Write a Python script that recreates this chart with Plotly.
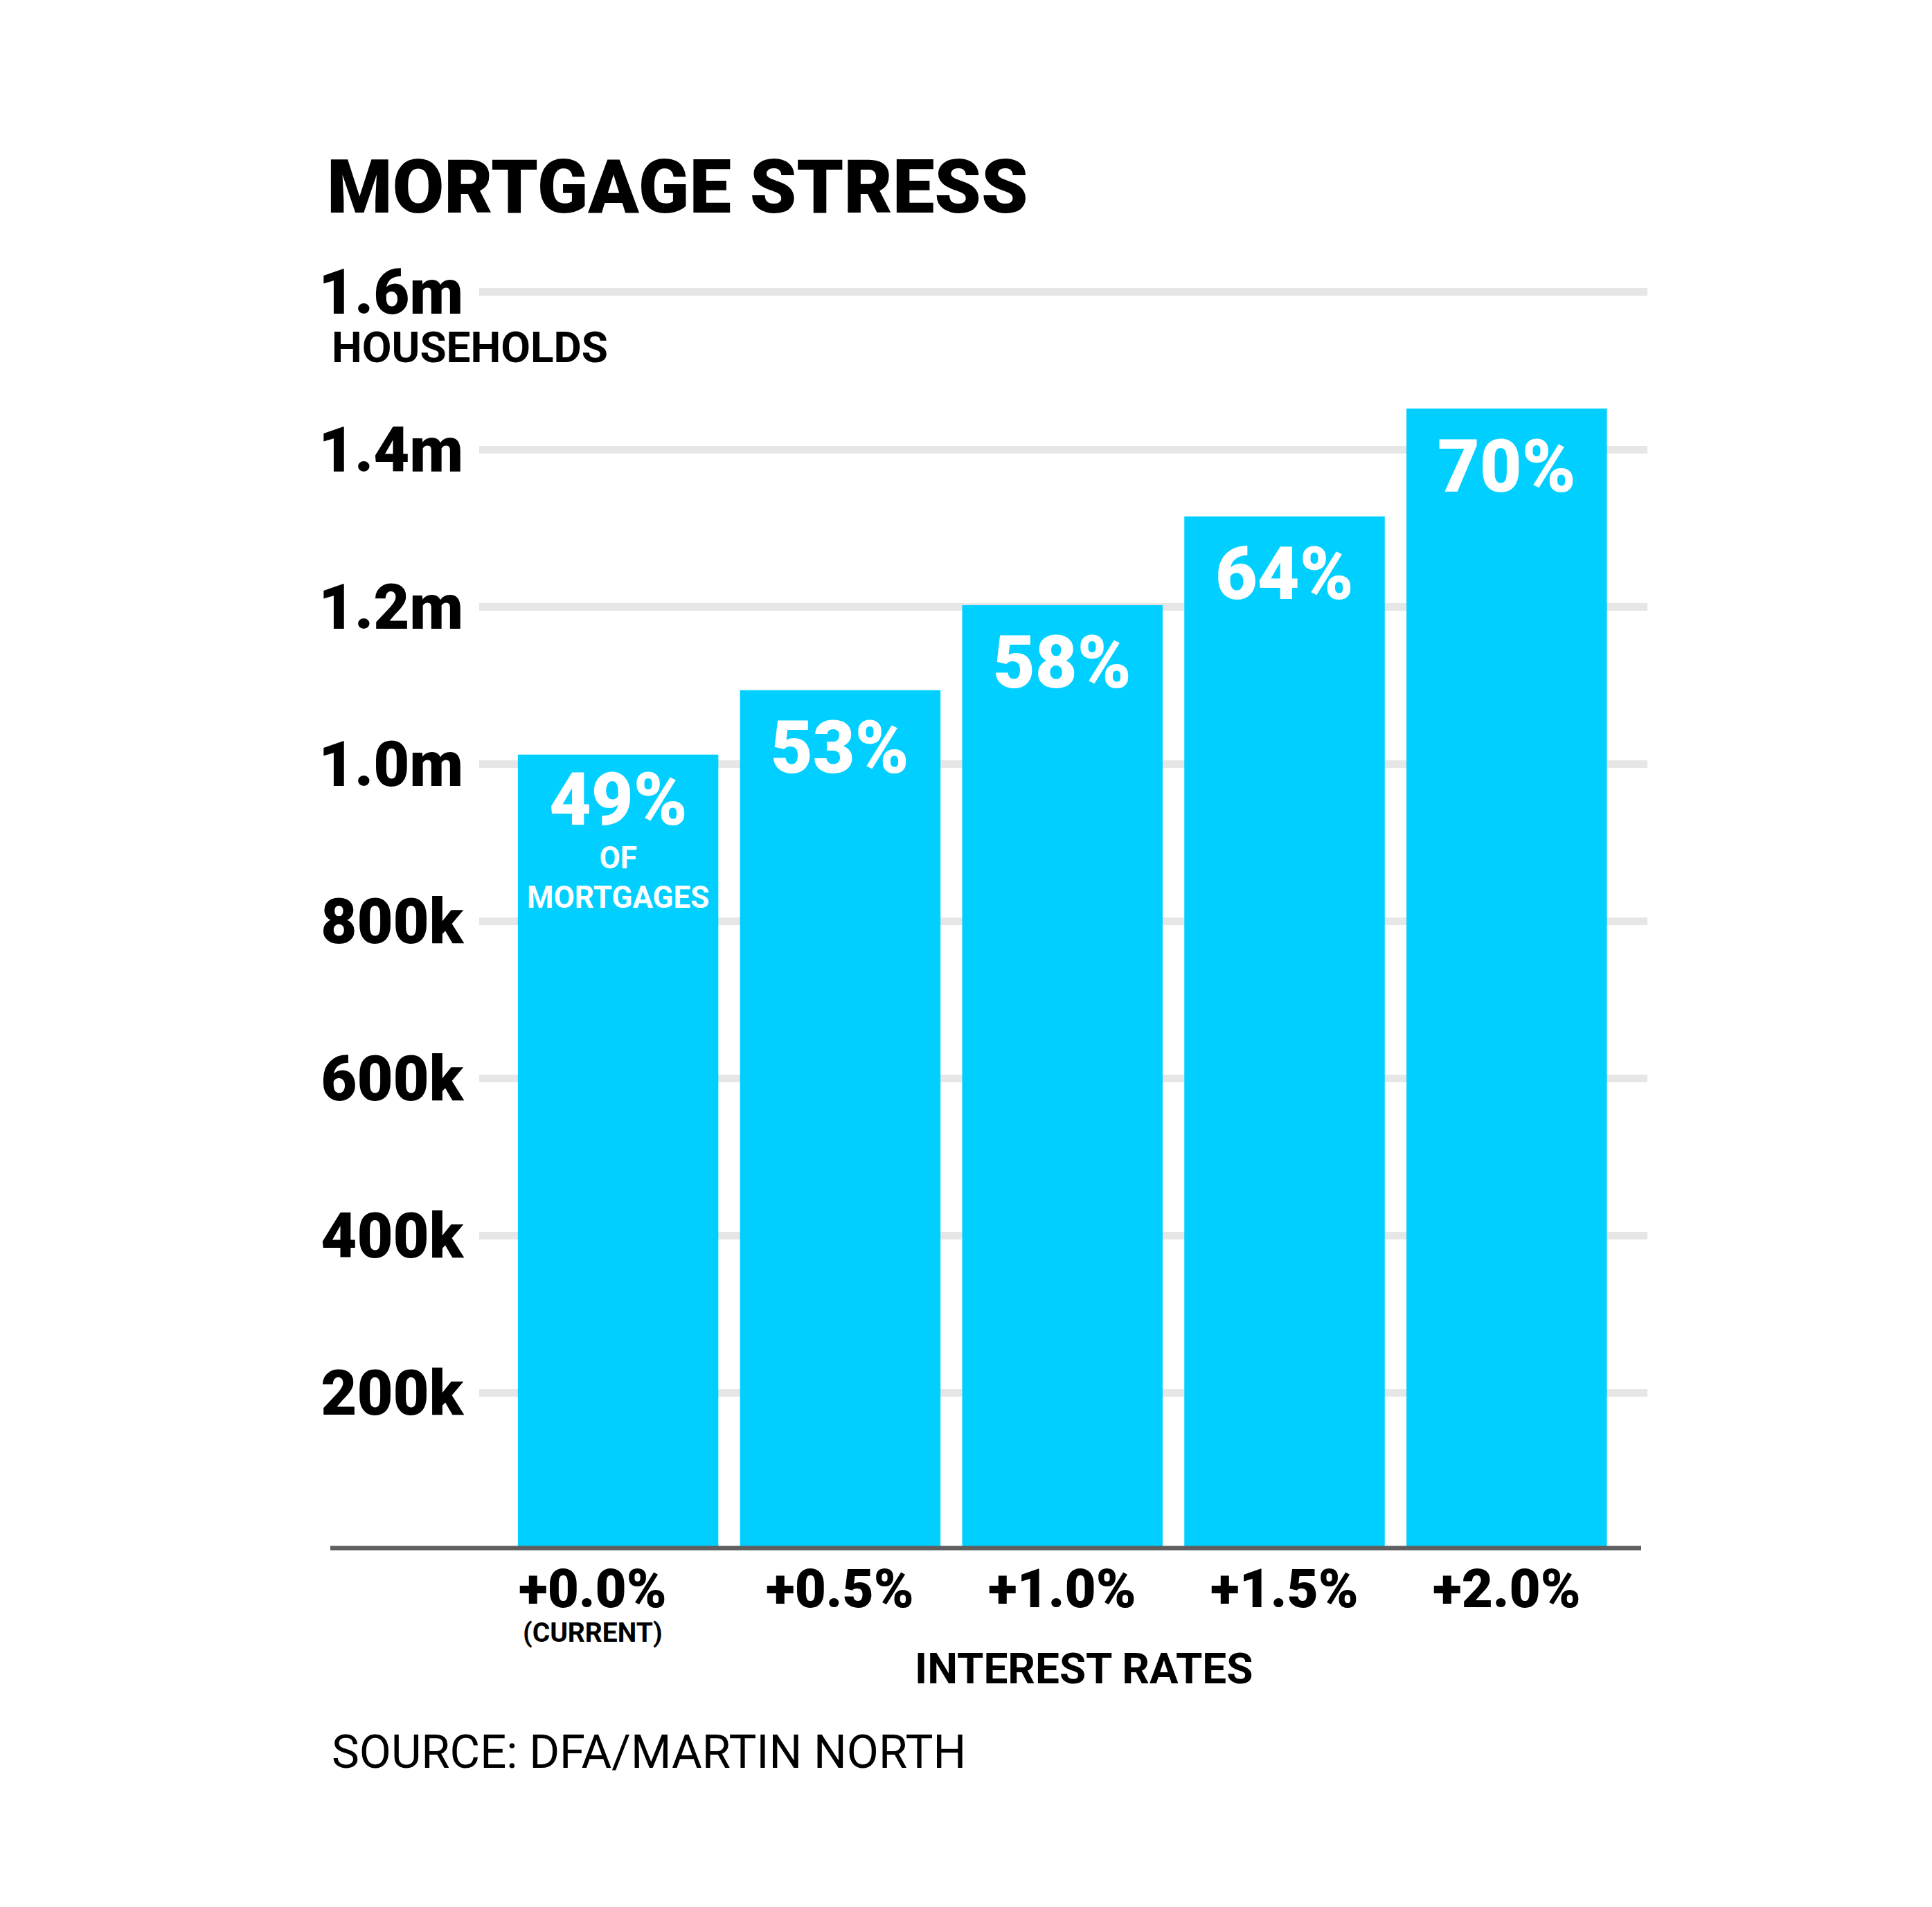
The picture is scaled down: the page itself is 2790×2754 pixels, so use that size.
import plotly.graph_objects as go

# ---------------- data ----------------
CATEGORIES = ["+0.0%", "+0.5%", "+1.0%", "+1.5%", "+2.0%"]
CATEGORY_NOTES = ["(CURRENT)", "", "", "", ""]
HOUSEHOLDS = [1012000, 1094000, 1202000, 1315000, 1452000]
SHARE_LABELS = ["49%", "53%", "58%", "64%", "70%"]
SHARE_NOTE = "OF<br>MORTGAGES"
Y_TICK_VALS = [200000, 400000, 600000, 800000, 1000000, 1200000, 1400000, 1600000]
Y_TICK_TEXT = ["200k", "400k", "600k", "800k", "1.0m", "1.2m", "1.4m", "1.6m"]
TITLE = "MORTGAGE STRESS"
Y_UNIT = "HOUSEHOLDS"
X_TITLE = "INTEREST RATES"
SOURCE = "SOURCE: DFA/MARTIN NORTH"

# ---------------- layout constants ----------------
W, H = 2790, 2754
PAGE_OFFSET = 8  # page body margin in the browser
FONT = "Roboto"
BAR_COLOR = "#00CFFF"
GRID_COLOR = "#E6E6E6"
AXIS_COLOR = "#5F5F5F"


def px(x):
    return (x - PAGE_OFFSET) / W


def py(y):
    return 1 - (y - PAGE_OFFSET) / H


fig = go.Figure()
fig.add_trace(go.Bar(
    x=CATEGORIES,
    y=HOUSEHOLDS,
    marker=dict(color=BAR_COLOR, line=dict(width=0)),
    hoverinfo="skip",
))

annotations = []
# title
annotations.append(dict(text=TITLE, xref="paper", yref="paper", x=px(470), y=py(270),
                        xanchor="left", yanchor="middle", showarrow=False,
                        font=dict(family=FONT, size=108, color="#000", weight=900)))
# y unit
annotations.append(dict(text=Y_UNIT, xref="paper", yref="paper", x=px(477), y=py(502),
                        xanchor="left", yanchor="middle", showarrow=False,
                        font=dict(family=FONT, size=62, color="#000", weight=700)))
# x axis title
annotations.append(dict(text=X_TITLE, xref="paper", yref="paper", x=px(1565), y=py(2409),
                        xanchor="center", yanchor="middle", showarrow=False,
                        font=dict(family=FONT, size=62, color="#000", weight=700)))
# source
annotations.append(dict(text=SOURCE, xref="paper", yref="paper", x=px(477), y=py(2530),
                        xanchor="left", yanchor="middle", showarrow=False,
                        font=dict(family=FONT, size=67, color="#000", weight=400)))

# category labels under bars
for i, (cat, note) in enumerate(zip(CATEGORIES, CATEGORY_NOTES)):
    shift = -37 if i == 0 else 0
    annotations.append(dict(text=cat, xref="x", yref="paper", x=cat, y=py(2294),
                            xanchor="center", yanchor="middle", showarrow=False, xshift=shift,
                            font=dict(family=FONT, size=78, color="#000", weight=900)))
    if note:
        annotations.append(dict(text=note, xref="x", yref="paper", x=cat, y=py(2358),
                                xanchor="center", yanchor="middle", showarrow=False, xshift=shift,
                                font=dict(family=FONT, size=39, color="#000", weight=700)))

# share labels inside bars
for i, (cat, val, lab) in enumerate(zip(CATEGORIES, HOUSEHOLDS, SHARE_LABELS)):
    off = 66 if i == 0 else 84
    annotations.append(dict(text=lab, xref="x", yref="y", x=cat, y=val,
                            xanchor="center", yanchor="middle", showarrow=False, yshift=-off,
                            font=dict(family=FONT, size=105, color="#FFFFFF", weight=900)))
# note under the first share label
annotations.append(dict(text=SHARE_NOTE, xref="x", yref="y", x=CATEGORIES[0], y=HOUSEHOLDS[0],
                        xanchor="center", yanchor="middle", showarrow=False, yshift=-178,
                        align="center", borderpad=0,
                        font=dict(family=FONT, size=44, color="#FFFFFF", weight=700)))

y_max = 1650000
y0_px, y16_px = 2239, 422
per_unit = (y0_px - y16_px) / 1600000
top_px = y0_px - y_max * per_unit

fig.update_layout(
    width=W, height=H,
    margin=dict(l=0, r=0, t=0, b=0),
    paper_bgcolor="white",
    plot_bgcolor="white",
    showlegend=False,
    bargap=0.0976,
    font=dict(family=FONT, color="#000"),
    xaxis=dict(
        domain=[px(692), px(2379)],
        range=[-0.6253, 4.6334],
        showticklabels=False,
        showgrid=False,
        zeroline=False,
        showline=False,
        ticks="",
        fixedrange=True,
    ),
    yaxis=dict(
        domain=[py(y0_px), py(top_px)],
        range=[0, y_max],
        tickmode="array",
        tickvals=Y_TICK_VALS,
        ticktext=Y_TICK_TEXT,
        tickfont=dict(family=FONT, size=90, color="#000", weight=900),
        ticks="",
        ticklabelstandoff=22,
        showgrid=True,
        gridcolor=GRID_COLOR,
        gridwidth=11,
        zeroline=False,
        showline=False,
        fixedrange=True,
    ),
    annotations=annotations,
    shapes=[dict(type="line", xref="paper", yref="y", x0=px(477), x1=px(2370), y0=0, y1=0,
                 line=dict(color=AXIS_COLOR, width=13), layer="above")],
)

fig.write_html("out.html", config={"displayModeBar": False})
